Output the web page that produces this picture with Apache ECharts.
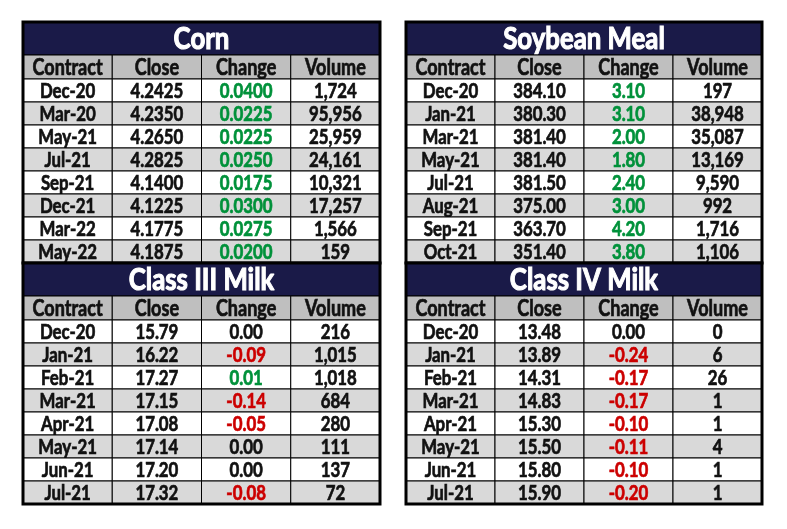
<!DOCTYPE html>
<html><head><meta charset="utf-8">
<script src="https://cdn.jsdelivr.net/npm/echarts@6/dist/echarts.min.js"></script>
<style>html,body{margin:0;padding:0;background:#fff}#c{width:787px;height:529px}</style>
</head><body><div id="c"></div>
<script>
const columns = ['Contract', 'Close', 'Change', 'Volume'];

const cornContracts = ['Dec-20','Mar-20','May-21','Jul-21','Sep-21','Dec-21','Mar-22','May-22'];
const cornClose = [4.2425, 4.2350, 4.2650, 4.2825, 4.1400, 4.1225, 4.1775, 4.1875];
const cornChange = [0.0400, 0.0225, 0.0225, 0.0250, 0.0175, 0.0300, 0.0275, 0.0200];
const cornVolume = [1724, 95956, 25959, 24161, 10321, 17257, 1566, 159];

const soyContracts = ['Dec-20','Jan-21','Mar-21','May-21','Jul-21','Aug-21','Sep-21','Oct-21'];
const soyClose = [384.10, 380.30, 381.40, 381.40, 381.50, 375.00, 363.70, 351.40];
const soyChange = [3.10, 3.10, 2.00, 1.80, 2.40, 3.00, 4.20, 3.80];
const soyVolume = [197, 38948, 35087, 13169, 9590, 992, 1716, 1106];

const milk3Contracts = ['Dec-20','Jan-21','Feb-21','Mar-21','Apr-21','May-21','Jun-21','Jul-21'];
const milk3Close = [15.79, 16.22, 17.27, 17.15, 17.08, 17.14, 17.20, 17.32];
const milk3Change = [0.00, -0.09, 0.01, -0.14, -0.05, 0.00, 0.00, -0.08];
const milk3Volume = [216, 1015, 1018, 684, 280, 111, 137, 72];

const milk4Contracts = ['Dec-20','Jan-21','Feb-21','Mar-21','Apr-21','May-21','Jun-21','Jul-21'];
const milk4Close = [13.48, 13.89, 14.31, 14.83, 15.30, 15.50, 15.80, 15.90];
const milk4Change = [0.00, -0.24, -0.17, -0.17, -0.10, -0.11, -0.10, -0.20];
const milk4Volume = [0, 6, 26, 1, 1, 4, 1, 1];

const tables = [
  {title:'Corn', contracts:cornContracts, close:cornClose, change:cornChange, volume:cornVolume, dec:4, grid:{left:23, top:22, width:357, height:241}},
  {title:'Soybean Meal', contracts:soyContracts, close:soyClose, change:soyChange, volume:soyVolume, dec:2, grid:{left:406, top:22, width:356, height:241}},
  {title:'Class III Milk', contracts:milk3Contracts, close:milk3Close, change:milk3Change, volume:milk3Volume, dec:2, grid:{left:23, top:263, width:357, height:241}},
  {title:'Class IV Milk', contracts:milk4Contracts, close:milk4Close, change:milk4Change, volume:milk4Volume, dec:2, grid:{left:406, top:263, width:356, height:241}}
];

const FONT = "Lato,'Noto Sans',sans-serif";
const NAVY = '#1a1a48', HEAD = '#bfbfbf', ALT = '#d9d9d9', GREEN = '#00913a', RED = '#cc0000';
const TITLE_H = 33/23, HEAD_H = 24/23;
const SX = 0.82;

function fmtVol(v){ return String(v).replace(/\B(?=(\d{3})+(?!\d))/g, ','); }

const chart = echarts.init(document.getElementById('c'), null, {renderer:'canvas'});
const grids = [], xAxes = [], yAxes = [], series = [];
const nRows = 8;
const totalH = TITLE_H + HEAD_H + nRows;

tables.forEach((t, ti) => {
  grids.push(Object.assign({containLabel:false}, t.grid));
  xAxes.push({type:'value', gridIndex:ti, min:0, max:4, show:false});
  yAxes.push({type:'value', gridIndex:ti, min:0, max:totalH, inverse:true, show:false});
  const cells = [];
  const data = [];
  function add(x0,x1,y0,y1,c){ data.push([x0,x1,y0,y1]); cells.push(c); }
  add(0,4,0,TITLE_H,{text:t.title, fill:NAVY, color:'#fff', size:30, stroke:1.1, sx:0.86});
  columns.forEach((c,ci)=> add(ci,ci+1,TITLE_H,TITLE_H+HEAD_H,{text:c, fill:HEAD, color:'#111', size:22, stroke:0.7}));
  for (let r=0;r<nRows;r++){
    const y0 = TITLE_H+HEAD_H+r, fill = r%2 ? ALT : '#fff';
    const ch = t.change[r];
    const chColor = ch > 0 ? GREEN : (ch < 0 ? RED : '#111');
    const vals = [t.contracts[r], t.close[r].toFixed(t.dec), ch.toFixed(t.dec), fmtVol(t.volume[r])];
    vals.forEach((v,ci)=> add(ci,ci+1,y0,y0+1,{text:v, fill:fill, color: ci===2 ? chColor : '#111', size:20.5, stroke:0.7}));
  }
  add(0,4,0,totalH,{frame:true});
  series.push({
    type:'custom', xAxisIndex:ti, yAxisIndex:ti, silent:true, animation:false,
    data:data,
    renderItem:function(params, api){
      const c = cells[params.dataIndex];
      const p0 = api.coord([api.value(0), api.value(2)]);
      const p1 = api.coord([api.value(1), api.value(3)]);
      const shape = {x:p0[0], y:p0[1], width:p1[0]-p0[0], height:p1[1]-p0[1]};
      if (c.frame) {
        return {type:'rect', shape:shape, style:{fill:null, stroke:'#000', lineWidth:3}};
      }
      const ts = {text:c.text, x:0, y:0, textAlign:'center', textVerticalAlign:'middle',
        fill:c.color, font:'bold '+c.size+'px '+FONT};
      if (c.stroke) { ts.stroke = c.color; ts.lineWidth = c.stroke; }
      return {type:'group', children:[
        {type:'rect', shape:shape, style:{fill:c.fill, stroke:'#000', lineWidth:1}},
        {type:'text', x:(p0[0]+p1[0])/2, y:(p0[1]+p1[1])/2+1, scaleX:c.sx || SX, style:ts}
      ]};
    }
  });
});

chart.setOption({animation:false, grid:grids, xAxis:xAxes, yAxis:yAxes, series:series});
</script></body></html>
